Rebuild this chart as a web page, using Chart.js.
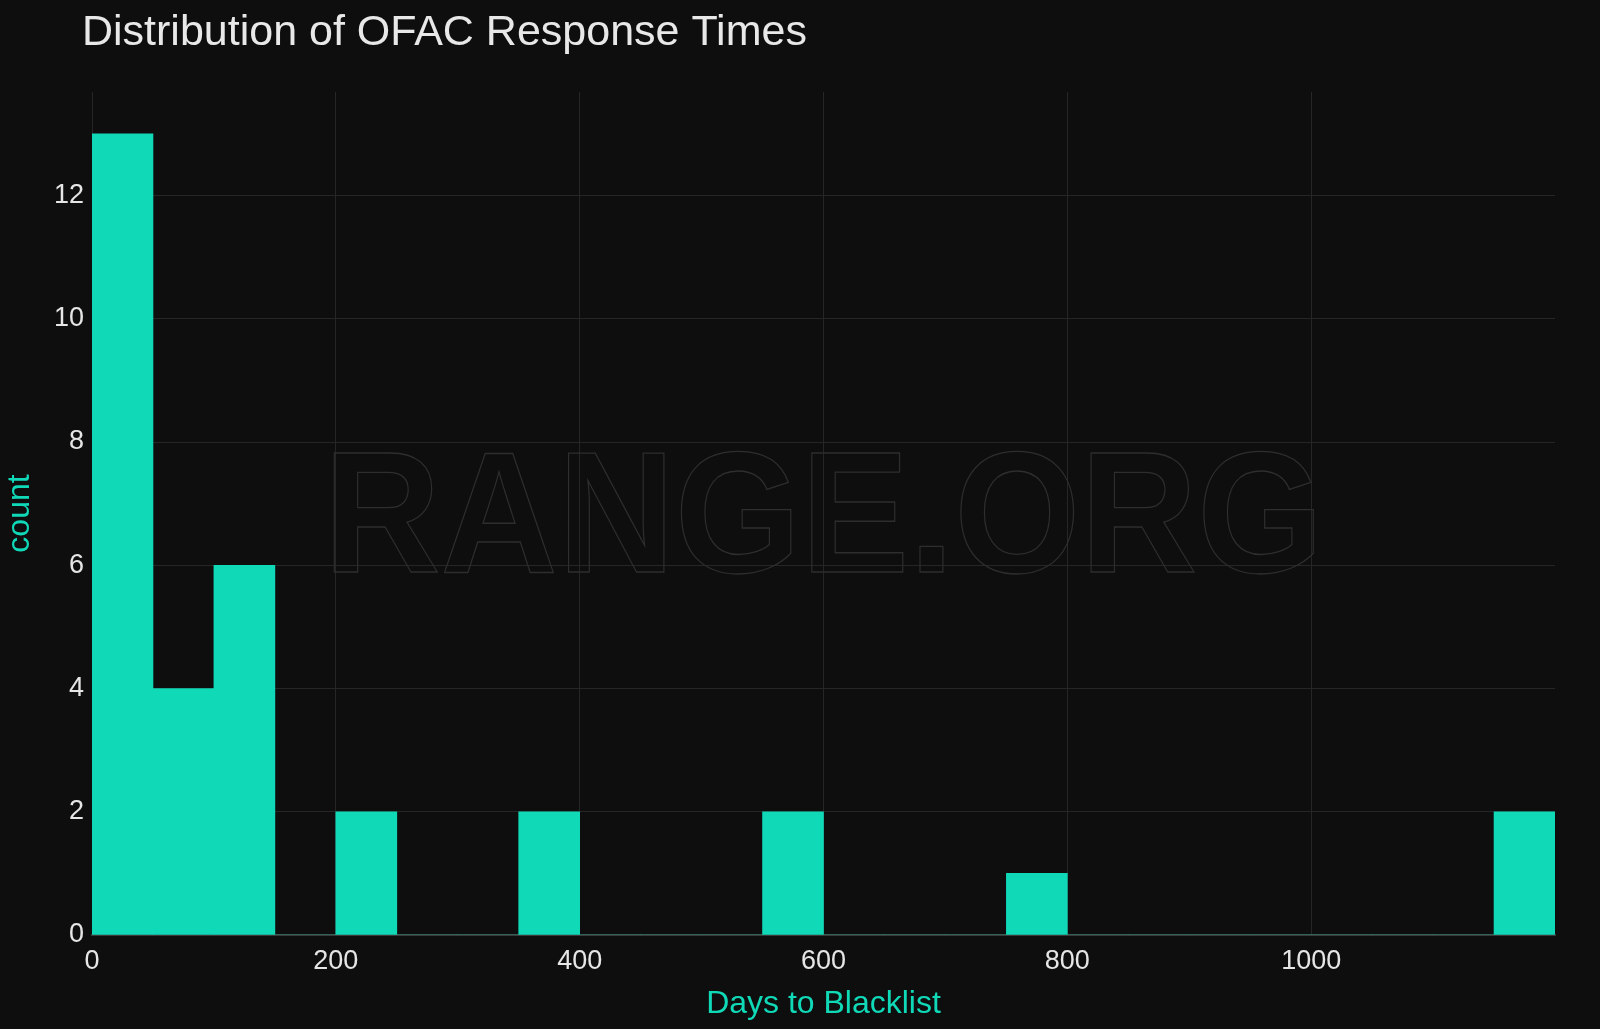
<!DOCTYPE html>
<html lang="en">
<head>
    <meta charset="UTF-8">
    <title>Distribution of OFAC Response Times</title>
    <script src="https://cdn.jsdelivr.net/npm/chart.js"></script>
    <style>
        body { margin: 0; background: #0e0e0e; }
        #wrap { width: 1600px; height: 1029px; }
    </style>
</head>
<body>
<div id="wrap"><canvas id="histChart"></canvas></div>
<script>
// histogram bins, 50 days wide
const binStarts = [0, 50, 100, 150, 200, 250, 300, 350, 400, 450, 500, 550,
                   600, 650, 700, 750, 800, 850, 900, 950, 1000, 1050, 1100, 1150];
const counts = [13, 4, 6, 0, 2, 0, 0, 2, 0, 0, 0, 2,
                0, 0, 0, 1, 0, 0, 0, 0, 0, 0, 0, 2];
const binWidth = 50;
const xTicks = [0, 200, 400, 600, 800, 1000];
const yTicks = [0, 2, 4, 6, 8, 10, 12];

const chartTitle = 'Distribution of OFAC Response Times';
const watermark = 'RANGE.ORG';

const teal = '#10d9b8';
const font = "'Liberation Sans', Arial, Helvetica, sans-serif";

// title + outlined watermark
const decor = {
    id: 'decor',
    beforeDatasetsDraw(chart) {
        const { ctx, chartArea } = chart;
        const cx = (chartArea.left + chartArea.right) / 2;
        const cy = (chartArea.top + chartArea.bottom) / 2;
        ctx.save();
        ctx.font = 'bold 172px ' + font;
        const w = ctx.measureText(watermark).width;
        const sx = 1000 / w;
        ctx.translate(cx, cy + 58);
        ctx.scale(sx, 1);
        ctx.textAlign = 'center';
        ctx.textBaseline = 'alphabetic';
        ctx.strokeStyle = '#2e2e2e';
        ctx.lineWidth = 1.2 / sx;
        ctx.strokeText(watermark, 0, 0);
        ctx.restore();
    },
    afterDraw(chart) {
        const ctx = chart.ctx;
        ctx.save();
        ctx.font = '43px ' + font;
        ctx.fillStyle = '#e8e8e8';
        ctx.textBaseline = 'alphabetic';
        ctx.fillText(chartTitle, 82, 45);
        ctx.restore();
    }
};

const ctx = document.getElementById('histChart').getContext('2d');

new Chart(ctx, {
    type: 'bar',
    data: {
        datasets: [{
            label: 'count',
            data: binStarts.map((s, i) => ({ x: s + binWidth / 2, y: counts[i] })),
            backgroundColor: teal,
            borderWidth: 0,
            barPercentage: 1,
            categoryPercentage: 1
        }]
    },
    plugins: [decor],
    options: {
        responsive: true,
        maintainAspectRatio: false,
        animation: false,
        layout: { padding: { top: 92, right: 45, left: 0, bottom: 0 } },
        plugins: {
            legend: { display: false },
            tooltip: { enabled: false }
        },
        scales: {
            x: {
                type: 'linear',
                min: 0,
                max: 1200,
                offset: false,
                afterBuildTicks: s => { s.ticks = xTicks.map(v => ({ value: v })); },
                afterFit: s => { s.height = 94; },
                grid: { color: '#262626', lineWidth: 1, drawTicks: false, offset: false },
                border: { display: true, color: '#3a3a3a', width: 2 },
                ticks: {
                    color: '#e6e6e6',
                    font: { family: font, size: 27 },
                    padding: 10,
                    maxRotation: 0,
                    callback: v => String(v)
                },
                title: {
                    display: true,
                    text: 'Days to Blacklist',
                    color: teal,
                    font: { family: font, size: 32 },
                    padding: { top: 0, bottom: 6 }
                }
            },
            y: {
                min: 0,
                max: 13.68,
                afterBuildTicks: s => { s.ticks = yTicks.map(v => ({ value: v })); },
                afterFit: s => { s.width = 92; },
                grid: { color: '#262626', lineWidth: 1, drawTicks: false },
                border: { display: false },
                ticks: {
                    color: '#e6e6e6',
                    font: { family: font, size: 27 },
                    padding: 8
                },
                title: {
                    display: true,
                    text: 'count',
                    color: teal,
                    font: { family: font, size: 32, lineHeight: 1.14 },
                    padding: { top: 2, bottom: 0 }
                }
            }
        }
    }
});
</script>
</body>
</html>
